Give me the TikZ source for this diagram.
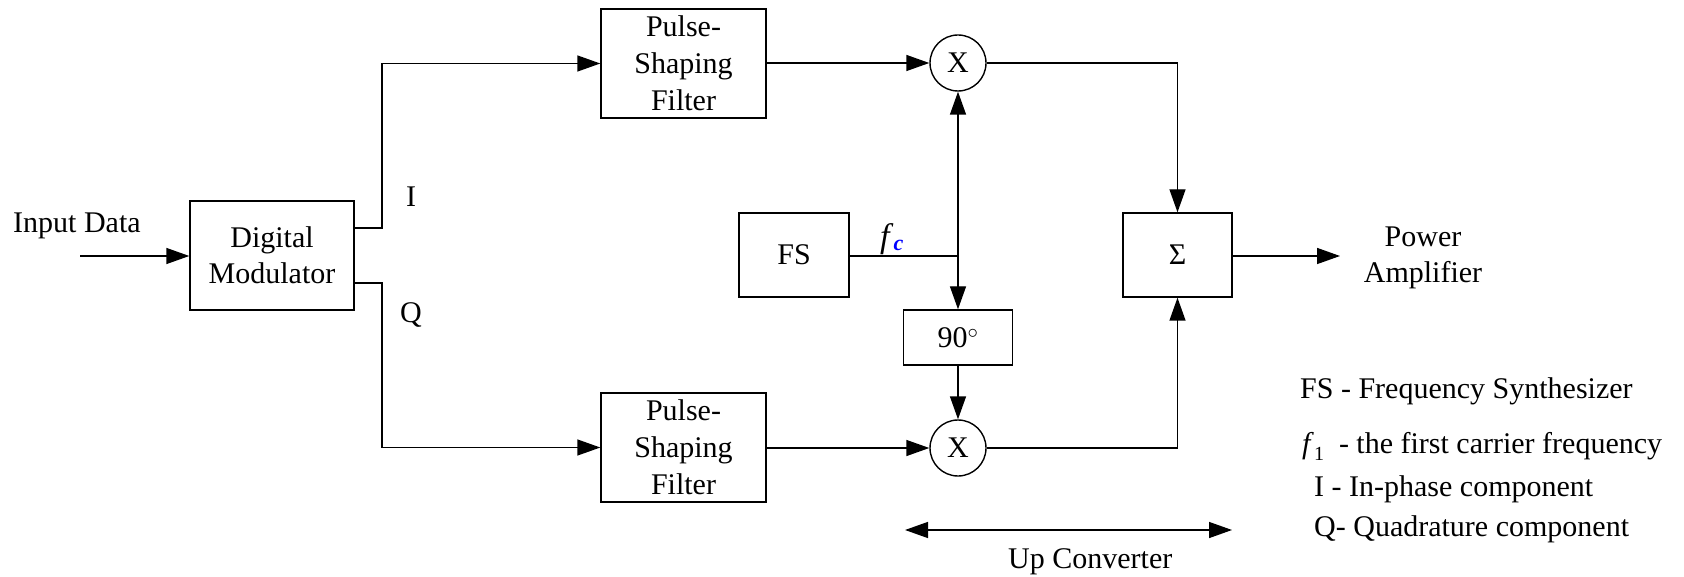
\documentclass[tikz,border=0pt]{standalone}
\usepackage{fontspec}
\setmainfont{Liberation Serif}
\usetikzlibrary{arrows.meta}
\begin{document}
\begin{tikzpicture}[x=1pt,y=-1pt,
  every node/.style={font=\fontsize{30}{36}\selectfont, inner sep=0pt},
  blk/.style={draw, line width=1.4pt, rectangle, align=center},
  mix/.style={draw, line width=1.4pt, circle, minimum size=56pt},
  wire/.style={line width=1.4pt},
  arr/.style={line width=1.4pt, -{Triangle[length=23pt,width=16pt]}},
  darr/.style={line width=1.4pt, {Triangle[length=23pt,width=16pt]}-{Triangle[length=23pt,width=16pt]}},
  lbl/.style={anchor=base west}
]
\useasboundingbox (0,0) rectangle (1684,577);

% blocks
\node[blk, minimum width=164pt, minimum height=109pt] (dm) at (272,255.5) {Digital\\Modulator};
\node[blk, minimum width=165pt, minimum height=109pt, font=\fontsize{30}{37}\selectfont] (pf1) at (683.5,63.5) {Pulse-\\Shaping\\Filter};
\node[blk, minimum width=165pt, minimum height=109pt, font=\fontsize{30}{37}\selectfont] (pf2) at (683.5,447.5) {Pulse-\\Shaping\\Filter};
\node[mix] (m1) at (958,63) {X};
\node[mix] (m2) at (958,448) {X};
\node[blk, minimum width=110pt, minimum height=84pt] (fs) at (794,255) {FS};
\node[blk, minimum width=109pt, minimum height=55pt] (ph) at (958,337.5) {90$^{\circ}$};
\node[blk, minimum width=109pt, minimum height=84pt] (sum) at (1177.5,255) {Σ};

% coordinates
\coordinate (in) at (80,256);
\coordinate (iout) at (354,228);
\coordinate (qout) at (354,283);
\coordinate (ic) at (382,228);
\coordinate (qc) at (382,283);
\coordinate (j) at (958,256);
\coordinate (pa) at (1340,256);
\coordinate (ucl) at (905,530);
\coordinate (ucr) at (1232,530);

% connectors
\draw[arr] (in) -- (dm.west |- in);
\draw[arr] (iout) -- (ic) |- (pf1.west);
\draw[arr] (qout) -- (qc) |- (pf2.west);
\draw[arr] (pf1.east |- m1) -- (m1.west);
\draw[arr] (pf2.east |- m2) -- (m2.west);
\draw[arr] (m1.east) -| (sum.north);
\draw[arr] (m2.east) -| (sum.south);
\draw[wire] (fs.east |- j) -- (j);
\draw[arr] (j) -- (m1.south);
\draw[arr] (j) -- (ph.north);
\draw[arr] (ph.south) -- (m2.north);
\draw[arr] (sum.east |- pa) -- (pa);
\draw[darr] (ucl) -- (ucr);

% labels
\node[lbl] (tin) at (13,233) {Input Data};
\node (tI) at (411,197) {I};
\node (tQ) at (411,315) {Q};
\node[lbl] (tf) at (880,248) {\fontsize{34}{34}\selectfont\textit{f}\raisebox{-3pt}{\fontsize{22}{22}\selectfont\color{blue}\textbf{\textit{c}}}};
\node[align=center] (tpa) at (1423,258) {Power\\Amplifier};
\node[lbl] (tuc) at (1008,568) {Up Converter};

% legend
\node[lbl] (l1) at (1300,398) {FS - Frequency Synthesizer};
\node[lbl] (l2) at (1302,453) {\textit{f}\raisebox{-7pt}{\fontsize{20}{20}\selectfont 1}\ \ - the first carrier frequency};
\node[lbl] (l3) at (1314,496) {I - In-phase component};
\node[lbl] (l4) at (1314,536) {Q- Quadrature component};
\end{tikzpicture}
\end{document}
